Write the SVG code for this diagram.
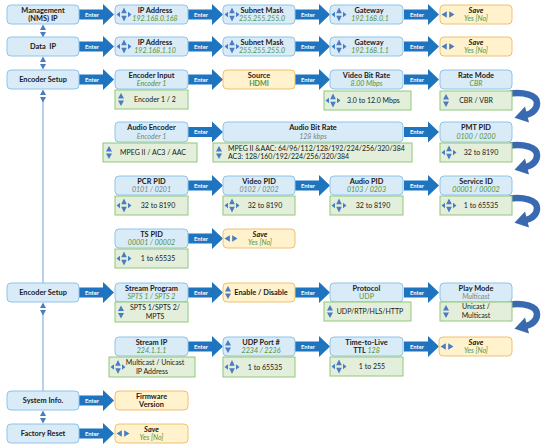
<svg xmlns="http://www.w3.org/2000/svg" width="550" height="448" viewBox="0 0 550 448">
<style>
text{font-family:Lato,'Liberation Sans',sans-serif;text-anchor:middle}
.b{fill:#DAEBF8;stroke:#8EC4EA;stroke-width:1}
.g{fill:#E3EFDA;stroke:#8FC87A;stroke-width:1}
.o{fill:#FFF2CC;stroke:#F0C070;stroke-width:1}
.t{font-size:7.4px;font-weight:bold;fill:#1a1a1a}
.ti{font-size:7.4px;font-weight:bold;font-style:italic;fill:#1a1a1a}
.v{font-size:7.1px;font-style:italic;fill:#559437}
.vu{font-size:7.1px;fill:#559437}
.vb{font-size:7.1px;font-weight:bold;fill:#559437}
.vg{font-size:7.1px;font-style:italic;fill:#75887E}
.n{font-size:7px;fill:#1a1a1a}
.nl{font-size:7px;fill:#1a1a1a;text-anchor:start}
.e{font-size:5.8px;font-weight:bold;fill:#fff}
.ar{fill:#1F74BF}
.ic{fill:#4A7CC4}
.ca{fill:none;stroke:#3869B1;stroke-width:6.5}
.cah{fill:#3869B1}
.vl{stroke:#6FA3D8;stroke-width:1}
</style>
<defs>
<path id="ent" d="M0,-5H24V-10.5L35,0L24,10.5V5H0Z"/>
<path id="quad" class="ic" d="M-7.5,0L-4,-2.7V2.7Z M7.5,0L4,-2.7V2.7Z M0,-7L-2.8,-1.2H2.8Z M0,7L-2.8,1.2H2.8Z"/>
<path id="ud" class="ic" d="M0,-6.5L-3,-1H3Z M0,6.5L-3,1H3Z"/>
<path id="lr" class="ic" d="M-6.5,0L-1.2,-3.2V3.2Z M6.5,0L1.2,-3.2V3.2Z"/>
<g id="curl"><path class="ca" d="M-2,2.5C12,1 25,4 25,12C25,18 21,22 14,24"/><path class="cah" d="M13,15.5L17,31.5L2.5,26.8Z"/></g>
</defs>

<g id="connectors">
  <line class="vl" x1="43" y1="101" x2="43" y2="283"/>
  <line class="vl" x1="43" y1="314" x2="43" y2="391"/>
  <use href="#ud" x="43" y="31"/>
  <use href="#ud" x="43" y="63"/>
  <use href="#ud" x="43" y="96"/>
  <use href="#ud" x="43" y="309"/>
  <use href="#ud" x="43" y="417"/>

  <g><use href="#ent" class="ar" x="79" y="14.5"/><text class="e" x="92" y="16.5">Enter</text></g>
  <g><use href="#ent" class="ar" x="188" y="14.5"/><text class="e" x="201" y="16.5">Enter</text></g>
  <g><use href="#ent" class="ar" x="295" y="14.5"/><text class="e" x="308" y="16.5">Enter</text></g>
  <g><use href="#ent" class="ar" x="404" y="14.5"/><text class="e" x="417" y="16.5">Enter</text></g>

  <g><use href="#ent" class="ar" x="79" y="46.5"/><text class="e" x="92" y="48.5">Enter</text></g>
  <g><use href="#ent" class="ar" x="188" y="46.5"/><text class="e" x="201" y="48.5">Enter</text></g>
  <g><use href="#ent" class="ar" x="295" y="46.5"/><text class="e" x="308" y="48.5">Enter</text></g>
  <g><use href="#ent" class="ar" x="404" y="46.5"/><text class="e" x="417" y="48.5">Enter</text></g>

  <g><use href="#ent" class="ar" x="79" y="79.5"/><text class="e" x="92" y="81.5">Enter</text></g>
  <g><use href="#ent" class="ar" x="188" y="79.5"/><text class="e" x="201" y="81.5">Enter</text></g>
  <g><use href="#ent" class="ar" x="295" y="79.5"/><text class="e" x="308" y="81.5">Enter</text></g>
  <g><use href="#ent" class="ar" x="404" y="79.5"/><text class="e" x="417" y="81.5">Enter</text></g>

  <g><use href="#ent" class="ar" x="188" y="132"/><text class="e" x="201" y="134">Enter</text></g>
  <g><use href="#ent" class="ar" x="404" y="132"/><text class="e" x="417" y="134">Enter</text></g>

  <g><use href="#ent" class="ar" x="188" y="185.5"/><text class="e" x="201" y="187.5">Enter</text></g>
  <g><use href="#ent" class="ar" x="295" y="185.5"/><text class="e" x="308" y="187.5">Enter</text></g>
  <g><use href="#ent" class="ar" x="404" y="185.5"/><text class="e" x="417" y="187.5">Enter</text></g>

  <g><use href="#ent" class="ar" x="188" y="238.5"/><text class="e" x="201" y="240.5">Enter</text></g>

  <g><use href="#ent" class="ar" x="79" y="292.5"/><text class="e" x="92" y="294.5">Enter</text></g>
  <g><use href="#ent" class="ar" x="188" y="292.5"/><text class="e" x="201" y="294.5">Enter</text></g>
  <g><use href="#ent" class="ar" x="295" y="292.5"/><text class="e" x="308" y="294.5">Enter</text></g>
  <g><use href="#ent" class="ar" x="404" y="292.5"/><text class="e" x="417" y="294.5">Enter</text></g>

  <g><use href="#ent" class="ar" x="188" y="346.5"/><text class="e" x="201" y="348.5">Enter</text></g>
  <g><use href="#ent" class="ar" x="295" y="346.5"/><text class="e" x="308" y="348.5">Enter</text></g>
  <g><use href="#ent" class="ar" x="404" y="346.5"/><text class="e" x="417" y="348.5">Enter</text></g>

  <g><use href="#ent" class="ar" x="79" y="400.5"/><text class="e" x="92" y="402.5">Enter</text></g>
  <g><use href="#ent" class="ar" x="79" y="433.5"/><text class="e" x="92" y="435.5">Enter</text></g>

  <use href="#curl" x="512" y="91"/>
  <use href="#curl" x="512" y="143"/>
  <use href="#curl" x="512" y="196"/>
  <use href="#curl" x="512" y="302"/>
</g>

<!-- Row 1 -->
<g id="n-mgmt"><rect class="b" x="7" y="5" width="72" height="19" rx="4"/><text class="t" x="43" y="12.5">Management</text><text class="t" x="43" y="21">(NMS) IP</text></g>
<g id="n-ip1"><rect class="b" x="115" y="5" width="73" height="19" rx="4"/><use href="#quad" x="124" y="14.5"/><text class="t" x="155" y="12.5">IP Address</text><text class="v" x="155" y="21">192.168.0.168</text></g>
<g id="n-mask1"><rect class="b" x="223" y="5" width="72" height="19" rx="4"/><use href="#quad" x="232" y="14.5"/><text class="t" x="262" y="12.5">Subnet Mask</text><text class="v" x="262" y="21">255.255.255.0</text></g>
<g id="n-gw1"><rect class="b" x="330" y="5" width="73" height="19" rx="4"/><use href="#quad" x="339" y="14.5"/><text class="t" x="369" y="12.5">Gateway</text><text class="v" x="370" y="21">192.168.0.1</text></g>
<g id="n-save1"><rect class="o" x="440" y="5" width="72" height="19" rx="4"/><use href="#lr" x="448" y="14.5"/><text class="ti" x="476" y="12.5">Save</text><text class="v" x="476" y="21">Yes [No]</text></g>

<!-- Row 2 -->
<g id="n-data"><rect class="b" x="7" y="37" width="72" height="19" rx="4"/><text class="t" x="43" y="49" xml:space="preserve">Data  IP</text></g>
<g id="n-ip2"><rect class="b" x="115" y="37" width="73" height="19" rx="4"/><use href="#quad" x="124" y="46.5"/><text class="t" x="155" y="44.5">IP Address</text><text class="v" x="155" y="53">192.168.1.10</text></g>
<g id="n-mask2"><rect class="b" x="223" y="37" width="72" height="19" rx="4"/><use href="#quad" x="232" y="46.5"/><text class="t" x="262" y="44.5">Subnet Mask</text><text class="v" x="262" y="53">255.255.255.0</text></g>
<g id="n-gw2"><rect class="b" x="330" y="37" width="73" height="19" rx="4"/><use href="#quad" x="339" y="46.5"/><text class="t" x="369" y="44.5">Gateway</text><text class="v" x="370" y="53">192.168.1.1</text></g>
<g id="n-save2"><rect class="o" x="440" y="37" width="72" height="19" rx="4"/><use href="#lr" x="448" y="46.5"/><text class="ti" x="476" y="44.5">Save</text><text class="v" x="476" y="53">Yes [No]</text></g>

<!-- Row 3 -->
<g id="n-enc1"><rect class="b" x="7" y="70" width="72" height="19" rx="4"/><text class="t" x="43" y="82">Encoder Setup</text></g>
<g id="n-encin"><rect class="b" x="115" y="70" width="73" height="19" rx="4"/><text class="t" x="151.5" y="77.5">Encoder Input</text><text class="v" x="151.5" y="86">Encoder 1</text></g>
<g id="n-encin-opt"><rect class="g" x="115" y="90" width="73" height="19"/><use href="#ud" x="121" y="99.5"/><text class="n" x="155" y="102">Encoder 1 / 2</text></g>
<g id="n-source"><rect class="o" x="223" y="70" width="72" height="19" rx="4"/><text class="t" x="259" y="77.5">Source</text><text class="vb" x="259" y="86">HDMI</text></g>
<g id="n-vbr"><rect class="b" x="330" y="70" width="73" height="19" rx="4"/><text class="t" x="366.5" y="77.5">Video Bit Rate</text><text class="v" x="366.5" y="86">8.00 Mbps</text></g>
<g id="n-vbr-opt"><rect class="g" x="324" y="91" width="87" height="19"/><use href="#quad" x="333" y="100.5"/><text class="n" x="373.5" y="103">3.0 to 12.0 Mbps</text></g>
<g id="n-rate"><rect class="b" x="440" y="70" width="72" height="19" rx="4"/><text class="t" x="476" y="77.5">Rate Mode</text><text class="v" x="476" y="86">CBR</text></g>
<g id="n-rate-opt"><rect class="g" x="440" y="91" width="72" height="19"/><use href="#ud" x="446" y="100.5"/><text class="n" x="476" y="103">CBR / VBR</text></g>

<!-- Row 4 -->
<g id="n-aenc"><rect class="b" x="115" y="122" width="73" height="20" rx="4"/><text class="t" x="151.5" y="129.5">Audio Encoder</text><text class="vg" x="151.5" y="138.5">Encoder 1</text></g>
<g id="n-aenc-opt"><rect class="g" x="103" y="143" width="94" height="19"/><use href="#ud" x="109" y="152.5"/><text class="n" x="153" y="155">MPEG II / AC3 / AAC</text></g>
<g id="n-abr"><rect class="b" x="223" y="122" width="180" height="20" rx="4"/><text class="t" x="313" y="129.5">Audio Bit Rate</text><text class="vg" x="313" y="138.5">128 kbps</text></g>
<g id="n-abr-opt"><rect class="g" x="213" y="143" width="199" height="19"/><use href="#ud" x="219" y="152.5"/><text class="nl" x="228" y="150.5">MPEG II &amp;AAC: 64/96/112/128/192/224/256/320/384</text><text class="nl" x="228" y="159">AC3: 128/160/192/224/256/320/384</text></g>
<g id="n-pmt"><rect class="b" x="440" y="122" width="72" height="20" rx="4"/><text class="t" x="476" y="129.5">PMT PID</text><text class="v" x="476" y="138.5">0100 / 0200</text></g>
<g id="n-pmt-opt"><rect class="g" x="440" y="143" width="72" height="19"/><use href="#quad" x="449" y="152.5"/><text class="n" x="481" y="155">32 to 8190</text></g>

<!-- Row 5 -->
<g id="n-pcr"><rect class="b" x="115" y="176" width="73" height="19" rx="4"/><text class="t" x="151.5" y="183.5">PCR PID</text><text class="vg" x="151.5" y="192">0101 / 0201</text></g>
<g id="n-pcr-opt"><rect class="g" x="115" y="196" width="73" height="19"/><use href="#quad" x="124" y="205.5"/><text class="n" x="158" y="208">32 to 8190</text></g>
<g id="n-vpid"><rect class="b" x="223" y="176" width="72" height="19" rx="4"/><text class="t" x="259" y="183.5">Video PID</text><text class="vg" x="259" y="192">0102 / 0202</text></g>
<g id="n-vpid-opt"><rect class="g" x="223" y="196" width="72" height="19"/><use href="#quad" x="232" y="205.5"/><text class="n" x="265" y="208">32 to 8190</text></g>
<g id="n-apid"><rect class="b" x="330" y="176" width="73" height="19" rx="4"/><text class="t" x="366.5" y="183.5">Audio PID</text><text class="v" x="366.5" y="192">0103 / 0203</text></g>
<g id="n-apid-opt"><rect class="g" x="330" y="196" width="73" height="19"/><use href="#quad" x="339" y="205.5"/><text class="n" x="373" y="208">32 to 8190</text></g>
<g id="n-sid"><rect class="b" x="440" y="176" width="72" height="19" rx="4"/><text class="t" x="476" y="183.5">Service ID</text><text class="v" x="476" y="192">00001 / 00002</text></g>
<g id="n-sid-opt"><rect class="g" x="440" y="196" width="72" height="19"/><use href="#quad" x="449" y="205.5"/><text class="n" x="481" y="208">1 to 65535</text></g>

<!-- Row 6 -->
<g id="n-ts"><rect class="b" x="115" y="229" width="73" height="19" rx="4"/><text class="t" x="151.5" y="236.5">TS PID</text><text class="v" x="151.5" y="245">00001 / 00002</text></g>
<g id="n-ts-opt"><rect class="g" x="115" y="249" width="73" height="19"/><use href="#quad" x="124" y="258.5"/><text class="n" x="158" y="261">1 to 65535</text></g>
<g id="n-save3"><rect class="o" x="223" y="229" width="72" height="19" rx="4"/><use href="#lr" x="231" y="238.5"/><text class="ti" x="260" y="236.5">Save</text><text class="v" x="260" y="245">Yes [No]</text></g>

<!-- Row 7 -->
<g id="n-enc2"><rect class="b" x="7" y="283" width="72" height="19" rx="4"/><text class="t" x="43" y="295">Encoder Setup</text></g>
<g id="n-sprog"><rect class="b" x="115" y="283" width="73" height="19" rx="4"/><text class="t" x="151.5" y="290.5">Stream Program</text><text class="v" x="151.5" y="299">SPTS 1 / SPTS 2</text></g>
<g id="n-sprog-opt"><rect class="g" x="115" y="302" width="73" height="20"/><use href="#ud" x="121" y="312"/><text class="n" x="155" y="309.5">SPTS 1/SPTS 2/</text><text class="n" x="155" y="318.5">MPTS</text></g>
<g id="n-endis"><rect class="o" x="223" y="283" width="72" height="19" rx="4"/><use href="#ud" x="228" y="292.5"/><text class="t" x="261" y="295">Enable / Disable</text></g>
<g id="n-proto"><rect class="b" x="330" y="283" width="73" height="19" rx="4"/><text class="t" x="366.5" y="290.5">Protocol</text><text class="vu" x="366.5" y="299">UDP</text></g>
<g id="n-proto-opt"><rect class="g" x="324" y="302" width="87" height="19"/><use href="#ud" x="330" y="311.5"/><text class="n" x="370" y="314">UDP/RTP/HLS/HTTP</text></g>
<g id="n-play"><rect class="b" x="440" y="283" width="72" height="19" rx="4"/><text class="t" x="476" y="290.5">Play Mode</text><text class="vg" x="476" y="299">Multicast</text></g>
<g id="n-play-opt"><rect class="g" x="440" y="302" width="72" height="19"/><use href="#ud" x="446" y="311.5"/><text class="n" x="476" y="309">Unicast /</text><text class="n" x="476" y="317.5">Multicast</text></g>

<!-- Row 8 -->
<g id="n-sip"><rect class="b" x="115" y="337" width="73" height="19" rx="4"/><text class="t" x="151.5" y="344.5">Stream IP</text><text class="v" x="151.5" y="353">224.1.1.1</text></g>
<g id="n-sip-opt"><rect class="g" x="109" y="357" width="86" height="20"/><use href="#quad" x="118" y="367"/><text class="n" x="155" y="364.5">Multicast / Unicast</text><text class="n" x="152" y="373.5">IP Address</text></g>
<g id="n-port"><rect class="b" x="223" y="337" width="72" height="19" rx="4"/><use href="#ud" x="228" y="346.5"/><text class="t" x="261" y="344.5">UDP Port #</text><text class="v" x="261" y="353">2234 / 2236</text></g>
<g id="n-port-opt"><rect class="g" x="223" y="357" width="72" height="20"/><use href="#quad" x="232" y="367"/><text class="n" x="265" y="369.5">1 to 65535</text></g>
<g id="n-ttl"><rect class="b" x="330" y="337" width="73" height="19" rx="4"/><text class="t" x="366.5" y="344.5">Time-to-Live</text><text x="366.5" y="353"><tspan class="t">TTL</tspan><tspan class="v"> 128</tspan></text></g>
<g id="n-ttl-opt"><rect class="g" x="330" y="357" width="73" height="19"/><use href="#quad" x="339" y="366.5"/><text class="n" x="372" y="369">1 to 255</text></g>
<g id="n-save4"><rect class="o" x="439" y="337" width="73" height="19" rx="4"/><use href="#lr" x="447" y="346.5"/><text class="ti" x="476" y="344.5">Save</text><text class="v" x="476" y="353">Yes [No]</text></g>

<!-- Row 9-10 -->
<g id="n-sys"><rect class="b" x="7" y="391" width="72" height="19" rx="4"/><text class="t" x="43" y="403">System Info.</text></g>
<g id="n-fw"><rect class="o" x="115" y="391" width="73" height="19" rx="4"/><text class="t" x="151.5" y="398.5">Firmware</text><text class="t" x="151.5" y="407">Version</text></g>
<g id="n-reset"><rect class="b" x="7" y="424" width="72" height="19" rx="4"/><text class="t" x="43" y="436">Factory Reset</text></g>
<g id="n-save5"><rect class="o" x="115" y="424" width="73" height="19" rx="4"/><use href="#lr" x="123" y="433.5"/><text class="ti" x="151.5" y="431.5">Save</text><text class="v" x="151.5" y="440">Yes [No]</text></g>
</svg>
